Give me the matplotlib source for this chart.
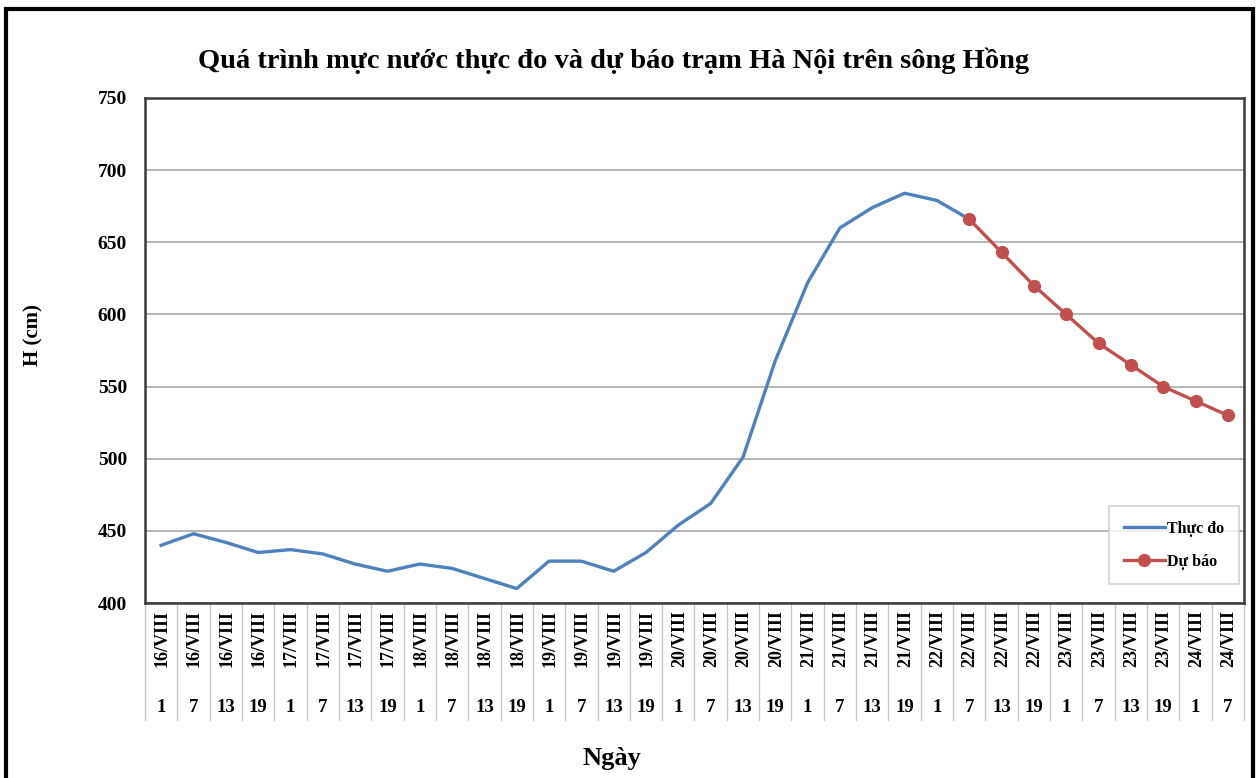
import matplotlib
matplotlib.use("Agg")
import matplotlib.pyplot as plt
import matplotlib.patches as patches
import matplotlib.transforms as mtransforms

plt.rcParams['font.family'] = ['Liberation Serif', 'DejaVu Serif']
plt.rcParams['font.weight'] = 'bold'

days = ['16/VIII'] * 4 + ['17/VIII'] * 4 + ['18/VIII'] * 4 + ['19/VIII'] * 4 + \
       ['20/VIII'] * 4 + ['21/VIII'] * 4 + ['22/VIII'] * 4 + ['23/VIII'] * 4 + ['24/VIII'] * 2
hours = ['1', '7', '13', '19'] * 8 + ['1', '7']

# measured water level (cm), 16/VIII 1h -> 22/VIII 7h
observed = [440, 448, 442, 435, 437, 434, 427, 422, 427, 424, 417, 410,
            429, 429, 422, 435, 454, 469, 501, 568, 622, 660, 674, 684,
            679, 666]
# forecast (cm), 22/VIII 7h -> 24/VIII 7h
forecast = [666, 643, 620, 600, 580, 565, 550, 540, 530]

blue = '#4F81BD'
red = '#C0504D'

fig = plt.figure(figsize=(12.59, 7.78), dpi=100)
W, H = 1259, 778
ax = fig.add_axes([145 / W, 1 - 603 / H, (1244 - 145) / W, (603 - 98) / H])

n = len(days)
x_obs = list(range(len(observed)))
x_fc = list(range(len(observed) - 1, len(observed) - 1 + len(forecast)))

ax.plot(x_obs, observed, color=blue, lw=2.4, label='Thực đo', zorder=3)
ax.plot(x_fc, forecast, color=red, lw=2.4, marker='o', markersize=8.5,
        label='Dự báo', zorder=4)

ax.set_xlim(-0.5, n - 0.5)
ax.set_ylim(400, 750)
ax.set_yticks(range(400, 751, 50))
ax.yaxis.grid(True, color='#a0a0a0', lw=1.1)
ax.set_axisbelow(True)
ax.set_xticks([])
ax.tick_params(axis='y', length=0, pad=13, labelsize=14)
for lab in ax.get_yticklabels():
    lab.set_fontweight('bold')
for sp in ax.spines.values():
    sp.set_color('#3a3a3a')
    sp.set_linewidth(1.8)

# multi-level category axis
trans = mtransforms.blended_transform_factory(ax.transData, ax.transAxes)
px = 1 / (603 - 98)
for i in range(n + 1):
    ax.plot([i - 0.5, i - 0.5], [0, -117 * px], transform=trans, color='#c8c8c8',
            lw=1.0, clip_on=False)
for i in range(n):
    ax.text(i + 0.03, -7 * px, days[i], transform=trans, rotation=90, ha='center', va='top',
            fontsize=13, fontweight='bold')
    ax.text(i, -104 * px, hours[i], transform=trans, ha='center', va='center',
            fontsize=13.5, fontweight='bold')

ax.set_ylabel('H (cm)', fontsize=15, fontweight='bold')
ax.yaxis.set_label_coords(-102 / 1099, 0.53)
fig.text(612 / W, 1 - 758 / H, 'Ngày', ha='center', va='center', fontsize=19,
         fontweight='bold')
fig.text(614 / W, 1 - 61 / H, 'Quá trình mực nước thực đo và dự báo trạm Hà Nội trên sông Hồng',
         ha='center', va='center', fontsize=20.5, fontweight='bold')

leg = ax.legend(loc='lower right', bbox_to_anchor=(0.9954, 0.0376), borderaxespad=0,
                fancybox=False, frameon=True, handlelength=2.6,
                handletextpad=0.15, labelspacing=1.05, borderpad=0.9,
                prop={'weight': 'bold', 'size': 11.5})
leg.get_frame().set_edgecolor('#c8c8c8')
leg.get_frame().set_linewidth(1.2)

# outer chart border
fig.patches.append(patches.Rectangle((6 / W, -0.05), (1253 - 6) / W, 1.05 - 9 / H,
                                     transform=fig.transFigure, fill=False,
                                     edgecolor='black', lw=3, zorder=10))

fig.savefig('out.png', dpi=100)
